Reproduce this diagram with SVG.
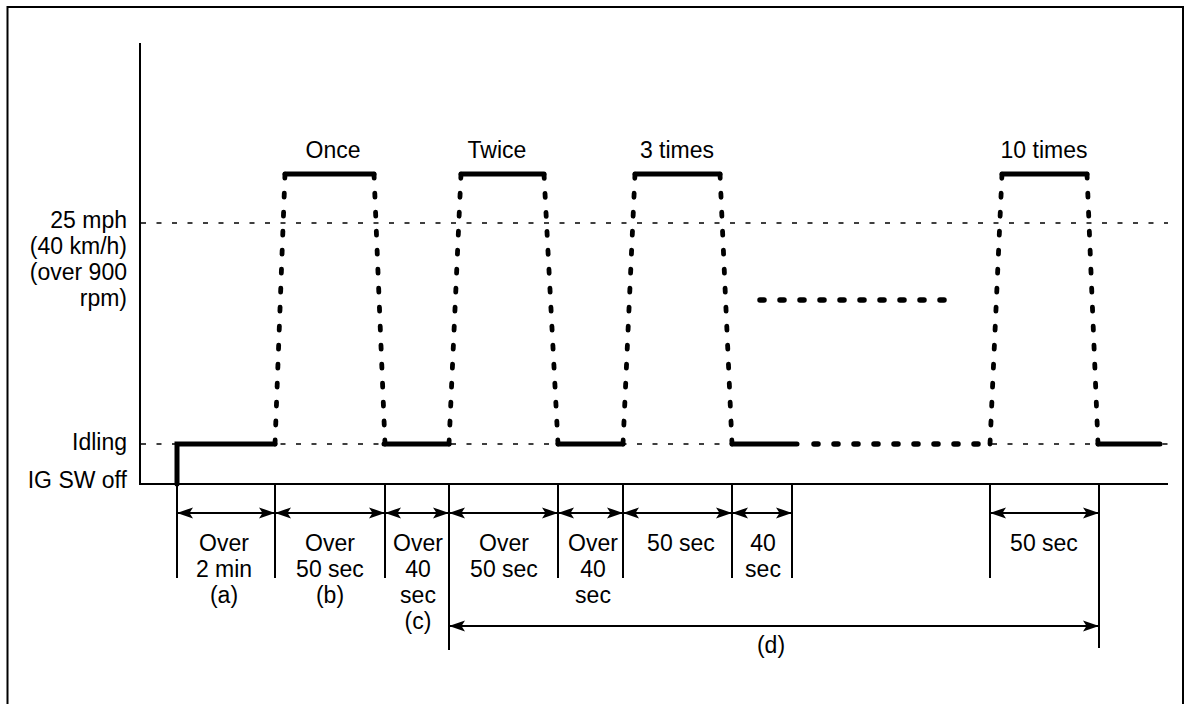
<svg xmlns="http://www.w3.org/2000/svg" width="1186" height="704" viewBox="0 0 1186 704">
  <style>
    text { font-family: "Liberation Sans", Arial, sans-serif; font-size: 23px; fill: #000; }
    .r { text-anchor: end; }
    .c { text-anchor: middle; }
    .axis { stroke: #000; stroke-width: 2; fill: none; }
    .ref { stroke: #000; stroke-width: 1.3; stroke-dasharray: 5 10.5; fill: none; }
    .thick { stroke: #000; stroke-width: 5; stroke-linecap: round; fill: none; }
    .dot { stroke: #000; stroke-width: 4.8; stroke-linecap: round; stroke-dasharray: 4 15; fill: none; }
    .hdot { stroke: #000; stroke-width: 5.5; stroke-linecap: round; stroke-dasharray: 4 16; fill: none; }
    .tick { stroke: #000; stroke-width: 2; fill: none; }
    .dim { stroke: #000; stroke-width: 2; fill: none; marker-start: url(#ah); marker-end: url(#ah); }
  </style>
  <defs>
    <marker id="ah" markerUnits="userSpaceOnUse" markerWidth="17" markerHeight="12" refX="16" refY="6" orient="auto-start-reverse" overflow="visible">
      <path d="M0,0.4 L16,6 L0,11.6 L3.5,6 Z" fill="#000"/>
    </marker>
  </defs>
  <rect x="0" y="0" width="1186" height="704" fill="#fff"/>
  <rect id="frame" x="7.5" y="7" width="1175.5" height="710" fill="none" stroke="#000" stroke-width="2"/>

  <g id="axes">
    <line class="axis" x1="140" y1="43" x2="140" y2="484" stroke-width="1.5"/>
    <line class="axis" x1="139" y1="484" x2="1168" y2="484"/>
    <line class="ref" x1="141" y1="223" x2="1168" y2="223"/>
    <line class="ref" x1="141" y1="444" x2="797" y2="444"/>
    <line class="ref" x1="992" y1="444" x2="1168" y2="444"/>
  </g>

  <g id="y-labels">
    <text class="r" x="127" y="228">25 mph</text>
    <text class="r" x="127" y="254">(40 km/h)</text>
    <text class="r" x="127" y="280">(over 900</text>
    <text class="r" x="127" y="306">rpm)</text>
    <text class="r" x="127" y="450">Idling</text>
    <text class="r" x="127" y="488">IG SW off</text>
  </g>

  <g id="signal">
    <polyline class="thick" points="177,484 177,444 275,444"/>
    <line class="thick" x1="384" y1="444" x2="449" y2="444"/>
    <line class="thick" x1="558" y1="444" x2="623" y2="444"/>
    <line class="thick" x1="732" y1="444" x2="797" y2="444"/>
    <line class="thick" x1="1098" y1="444" x2="1160" y2="444"/>
    <line class="hdot" x1="814" y1="444" x2="990" y2="444"/>
    <line class="hdot" x1="760" y1="300" x2="950" y2="300" stroke-dasharray="4 17.11"/>
  </g>

  <g id="pulse-once">
    <line class="dot" x1="275" y1="444" x2="285" y2="174"/>
    <line class="dot" x1="385" y1="444" x2="374" y2="174"/>
    <line class="thick" x1="285" y1="174" x2="374" y2="174"/>
    <text class="c" x="333" y="158">Once</text>
  </g>
  <g id="pulse-twice">
    <line class="dot" x1="449" y1="444" x2="461" y2="174"/>
    <line class="dot" x1="558" y1="444" x2="544" y2="174"/>
    <line class="thick" x1="461" y1="174" x2="544" y2="174"/>
    <text class="c" x="497" y="158">Twice</text>
  </g>
  <g id="pulse-3">
    <line class="dot" x1="623" y1="444" x2="635" y2="174"/>
    <line class="dot" x1="732" y1="444" x2="720" y2="174"/>
    <line class="thick" x1="635" y1="174" x2="720" y2="174"/>
    <text class="c" x="677" y="158">3 times</text>
  </g>
  <g id="pulse-10">
    <line class="dot" x1="990" y1="444" x2="1002" y2="174"/>
    <line class="dot" x1="1098" y1="444" x2="1087" y2="174"/>
    <line class="thick" x1="1002" y1="174" x2="1087" y2="174"/>
    <text class="c" x="1044" y="158">10 times</text>
  </g>

  <g id="connectors">
    <line class="tick" x1="177" y1="484" x2="177" y2="578"/>
    <line class="tick" x1="275" y1="484" x2="275" y2="578"/>
    <line class="tick" x1="385" y1="484" x2="385" y2="578"/>
    <line class="tick" x1="449" y1="484" x2="449" y2="650"/>
    <line class="tick" x1="558" y1="484" x2="558" y2="578"/>
    <line class="tick" x1="623" y1="484" x2="623" y2="578"/>
    <line class="tick" x1="732" y1="484" x2="732" y2="578"/>
    <line class="tick" x1="792" y1="484" x2="792" y2="578"/>
    <line class="tick" x1="990" y1="484" x2="990" y2="578"/>
    <line class="tick" x1="1099" y1="484" x2="1099" y2="648"/>
    <line class="dim" x1="177" y1="513" x2="275" y2="513"/>
    <line class="dim" x1="275" y1="513" x2="385" y2="513"/>
    <line class="dim" x1="385" y1="513" x2="449" y2="513"/>
    <line class="dim" x1="449" y1="513" x2="558" y2="513"/>
    <line class="dim" x1="558" y1="513" x2="623" y2="513"/>
    <line class="dim" x1="623" y1="513" x2="732" y2="513"/>
    <line class="dim" x1="732" y1="513" x2="792" y2="513"/>
    <line class="dim" x1="990" y1="513" x2="1099" y2="513"/>
    <line class="dim" x1="449" y1="626" x2="1099" y2="626"/>
  </g>

  <g id="label-a">
    <text class="c" x="224" y="551">Over</text>
    <text class="c" x="224" y="577">2 min</text>
    <text class="c" x="224" y="603">(a)</text>
  </g>
  <g id="label-b">
    <text class="c" x="330" y="551">Over</text>
    <text class="c" x="330" y="577">50 sec</text>
    <text class="c" x="330" y="603">(b)</text>
  </g>
  <g id="label-c">
    <text class="c" x="418" y="551">Over</text>
    <text class="c" x="418" y="577">40</text>
    <text class="c" x="418" y="603">sec</text>
    <text class="c" x="418" y="629">(c)</text>
  </g>
  <g id="label-d1">
    <text class="c" x="504" y="551">Over</text>
    <text class="c" x="504" y="577">50 sec</text>
  </g>
  <g id="label-d2">
    <text class="c" x="593" y="551">Over</text>
    <text class="c" x="593" y="577">40</text>
    <text class="c" x="593" y="603">sec</text>
  </g>
  <g id="label-d3">
    <text class="c" x="681" y="551">50 sec</text>
  </g>
  <g id="label-d4">
    <text class="c" x="763" y="551">40</text>
    <text class="c" x="763" y="577">sec</text>
  </g>
  <g id="label-d10">
    <text class="c" x="1044" y="551">50 sec</text>
  </g>
  <g id="label-d">
    <text class="c" x="771" y="653">(d)</text>
  </g>
</svg>
